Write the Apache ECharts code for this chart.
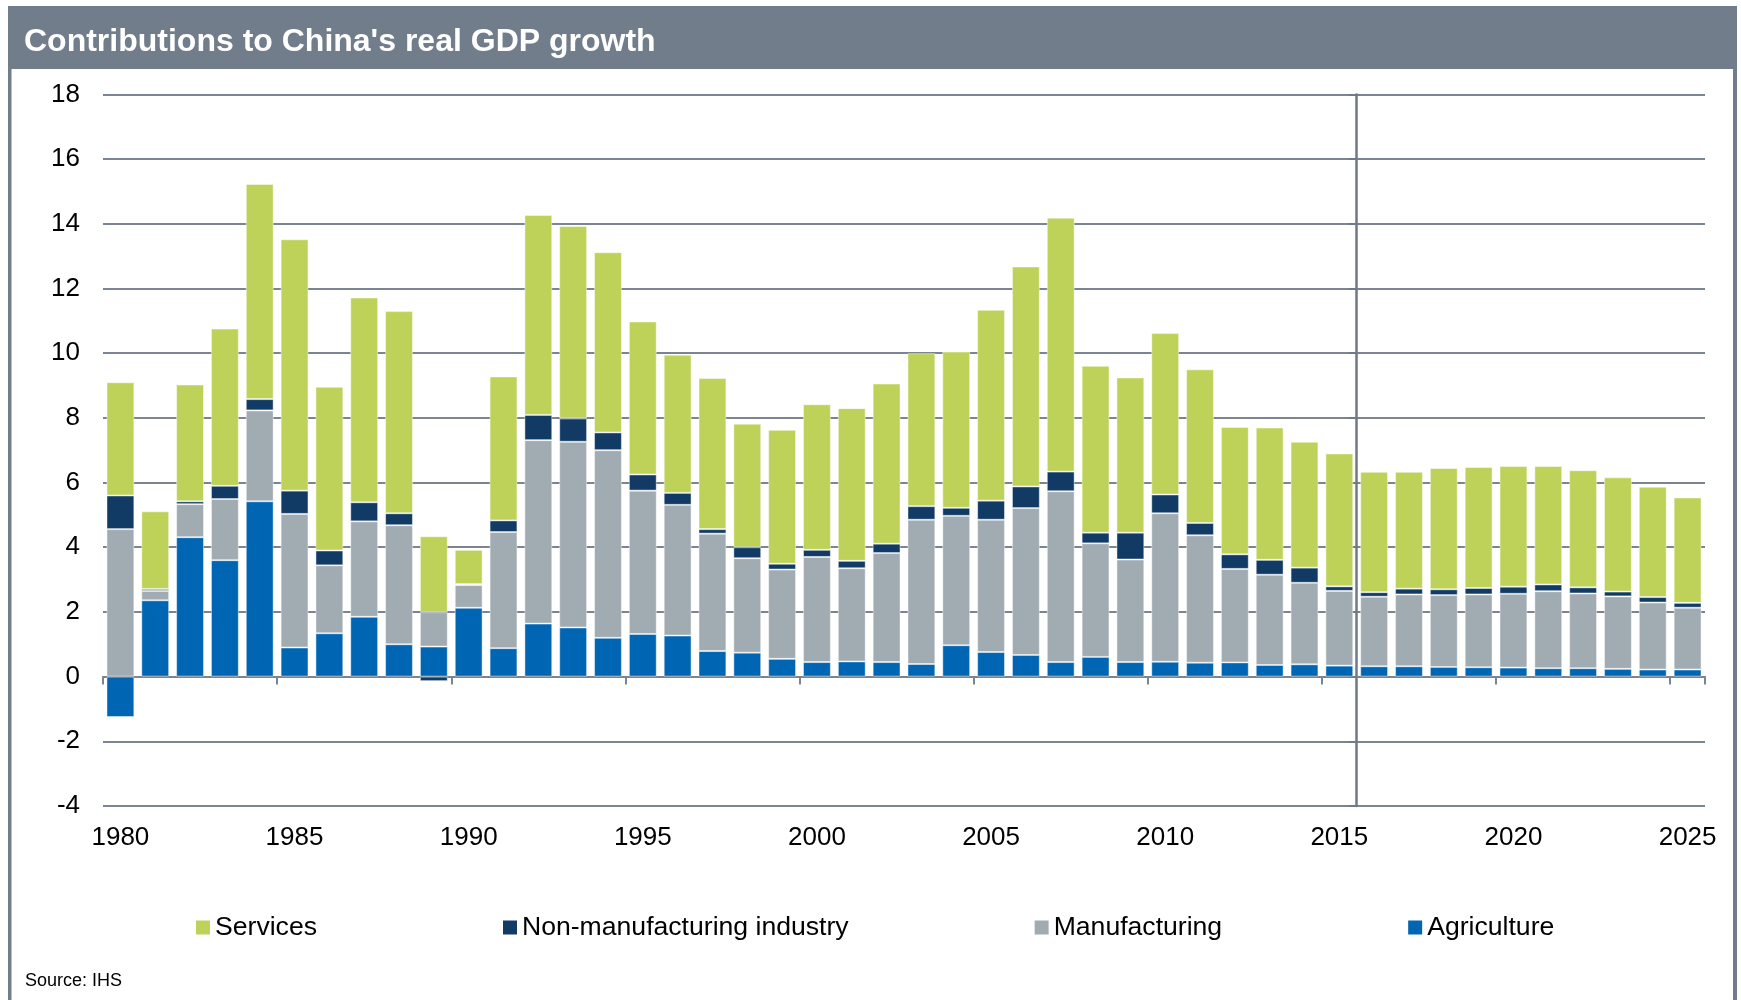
<!DOCTYPE html>
<html>
<head>
<meta charset="utf-8">
<title>Contributions to China's real GDP growth</title>
<script src="https://cdn.jsdelivr.net/npm/echarts@6/dist/echarts.min.js"></script>
<style>
  html, body { margin: 0; padding: 0; background: #ffffff; }
  #chart { width: 1741px; height: 1000px; }
</style>
</head>
<body>
<div id="chart"></div>
<script>
// Contributions to real GDP growth by sector, percentage points
const years = [
  '1980','1981','1982','1983','1984','1985','1986','1987','1988','1989',
  '1990','1991','1992','1993','1994','1995','1996','1997','1998','1999',
  '2000','2001','2002','2003','2004','2005','2006','2007','2008','2009',
  '2010','2011','2012','2013','2014','2015','2016','2017','2018','2019',
  '2020','2021','2022','2023','2024','2025'
];

const agriculture = [
  -1.25, 2.36, 4.31, 3.60, 5.42, 0.90, 1.34, 1.85, 1.00, 0.93,
   2.13, 0.88, 1.64, 1.52, 1.20, 1.32, 1.27, 0.79, 0.74, 0.55,
   0.45, 0.47, 0.45, 0.39, 0.97, 0.76, 0.67, 0.45, 0.61, 0.45,
   0.46, 0.43, 0.44, 0.36, 0.38, 0.34, 0.32, 0.32, 0.30, 0.29,
   0.28, 0.26, 0.26, 0.24, 0.22, 0.22
];

const manufacturing = [
  4.56, 0.29, 1.02, 1.89, 2.81, 4.13, 2.10, 2.95, 3.68, 1.06,
  0.70, 3.59, 5.67, 5.74, 5.80, 4.43, 4.04, 3.63, 2.92, 2.76,
  3.25, 2.88, 3.37, 4.46, 4.00, 4.09, 4.54, 5.28, 3.51, 3.17,
  4.59, 3.94, 2.89, 2.79, 2.52, 2.31, 2.15, 2.22, 2.22, 2.25,
  2.28, 2.38, 2.31, 2.24, 2.07, 1.91
];

const nonManufacturing = [
  1.04, 0.06, 0.09, 0.41, 0.35, 0.72, 0.46, 0.59, 0.37, -0.14,
  0.03, 0.36, 0.78, 0.72, 0.55, 0.50, 0.37, 0.14, 0.34, 0.18,
  0.22, 0.23, 0.29, 0.42, 0.25, 0.59, 0.67, 0.61, 0.33, 0.83,
  0.58, 0.38, 0.45, 0.46, 0.47, 0.14, 0.14, 0.18, 0.18, 0.20,
  0.22, 0.21, 0.19, 0.15, 0.17, 0.15
];

const services = [
  3.50, 2.40, 3.61, 4.86, 6.65, 7.77, 5.06, 6.33, 6.25, 2.35,
  1.06, 4.45, 6.18, 5.95, 5.57, 4.73, 4.27, 4.67, 3.82, 4.14,
  4.50, 4.72, 4.95, 4.73, 4.83, 5.90, 6.80, 7.85, 5.16, 4.80,
  4.99, 4.75, 3.94, 4.09, 3.89, 4.11, 3.72, 3.61, 3.75, 3.74,
  3.73, 3.66, 3.62, 3.53, 3.41, 3.26
];

const legendOrder = ['Services', 'Non-manufacturing industry', 'Manufacturing', 'Agriculture'];

// value axis ticks: -4 to 18 in steps of 2
const yMin = -4;
const yMax = 18;
const yStep = 2;

// first forecast year; a divider is drawn on its left edge
const forecastStart = '2016';

const FONT = '"Liberation Sans", Arial, Helvetica, sans-serif';
const FRAME = '#717D8A';
const GRID_LINE = '#7A8591';
const DIVIDER = '#6E7A87';

const COLORS = {
  services: '#BED25A',
  nonManufacturing: '#113B65',
  manufacturing: '#A1ABB2',
  agriculture: '#0066B3'
};

const chart = echarts.init(document.getElementById('chart'), null, { renderer: 'canvas' });

function barSeries(name, data, color) {
  return {
    name: name,
    type: 'bar',
    stack: 'gdp',
    data: data,
    xAxisIndex: 0,
    yAxisIndex: 0,
    barCategoryGap: '20%',
    itemStyle: { color: color, borderColor: 'rgba(255,255,255,0.45)', borderWidth: 1 },
    emphasis: { disabled: true }
  };
}

const option = {
  animation: false,
  backgroundColor: '#ffffff',
  textStyle: { fontFamily: FONT },
  title: {
    text: "Contributions to China's real GDP growth",
    left: 19,
    top: 21,
    textStyle: { color: '#ffffff', fontSize: 32, fontWeight: 'bold', fontFamily: FONT }
  },
  graphic: [
    { type: 'rect', shape: { x: 8, y: 6, width: 1729, height: 63 }, style: { fill: FRAME }, silent: true },
    { type: 'rect', shape: { x: 8, y: 69, width: 3.5, height: 931 }, style: { fill: FRAME }, silent: true },
    { type: 'rect', shape: { x: 1733, y: 69, width: 4, height: 931 }, style: { fill: FRAME }, silent: true },
    {
      type: 'text', left: 25, top: 972,
      style: { text: 'Source: IHS', fontSize: 18, fill: '#000000', fontFamily: FONT }
    }
  ],
  legend: {
    data: legendOrder,
    left: 191,
    top: 909,
    icon: 'rect',
    itemWidth: 14,
    itemHeight: 14,
    itemGap: 186,
    itemStyle: { borderWidth: 0 },
    textStyle: { fontSize: 26.6, color: '#000000', fontFamily: FONT },
    selectedMode: false
  },
  grid: { left: 103, right: 36, top: 94.4, bottom: 194 },
  xAxis: [
    {
      type: 'category',
      data: years,
      position: 'bottom',
      axisLine: { show: false, onZero: false },
      axisTick: { show: false },
      axisLabel: { interval: 4, fontSize: 26, color: '#000000', margin: 19, fontFamily: FONT },
      splitLine: { show: false }
    },
    {
      type: 'category',
      data: years,
      position: 'bottom',
      axisLine: { show: true, onZero: true, lineStyle: { color: GRID_LINE, width: 2 } },
      axisTick: { show: true, interval: 4, length: 8, lineStyle: { color: GRID_LINE, width: 2 } },
      axisLabel: { show: false },
      splitLine: { show: false }
    }
  ],
  yAxis: [
    {
      type: 'value',
      min: yMin,
      max: yMax,
      interval: yStep,
      axisLine: { show: false },
      axisTick: { show: false },
      axisLabel: { fontSize: 26, color: '#000000', margin: 23, fontFamily: FONT },
      splitLine: { show: true, lineStyle: { color: GRID_LINE, width: 2 } }
    },
    {
      type: 'value',
      position: 'right',
      min: yMin,
      max: yMax,
      interval: yStep,
      offset: 0,
      axisLine: { show: true, onZero: false, lineStyle: { color: DIVIDER, width: 2.5 } },
      axisTick: { show: true, inside: true, length: 8, lineStyle: { color: DIVIDER, width: 2 } },
      axisLabel: { show: false },
      splitLine: { show: false }
    }
  ],
  series: [
    barSeries('Agriculture', agriculture, COLORS.agriculture),
    barSeries('Manufacturing', manufacturing, COLORS.manufacturing),
    barSeries('Non-manufacturing industry', nonManufacturing, COLORS.nonManufacturing),
    barSeries('Services', services, COLORS.services)
  ]
};

chart.setOption(option);

// place the divider on the boundary between the last actual year and the first forecast year
const px = function (c) { return chart.convertToPixel({ xAxisIndex: 0 }, c); };
const fi = years.indexOf(forecastStart);
const boundaryX = (px(years[fi - 1]) + px(years[fi])) / 2;
const last = years.length - 1;
const gridRightX = px(years[last]) + (px(years[last]) - px(years[last - 1])) / 2;
chart.setOption({ yAxis: [{}, { offset: boundaryX - gridRightX }] });
</script>
</body>
</html>
